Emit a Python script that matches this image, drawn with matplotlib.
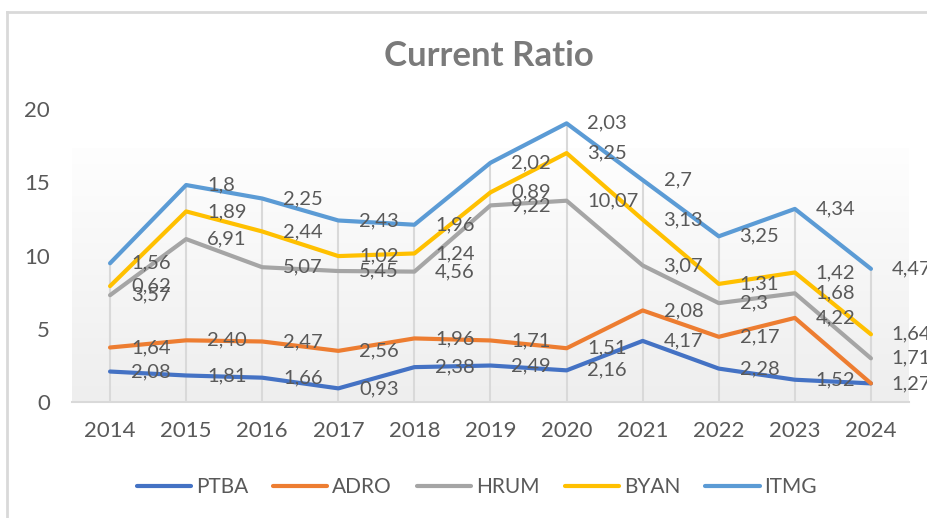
import matplotlib

matplotlib.use("Agg")
import matplotlib.pyplot as plt
import numpy as np
from matplotlib.colors import LinearSegmentedColormap
from matplotlib.lines import Line2D

plt.rcParams["font.family"] = ["Lato", "DejaVu Sans"]

years = ["2014", "2015", "2016", "2017", "2018", "2019", "2020", "2021", "2022", "2023", "2024"]
series_names = ["PTBA", "ADRO", "HRUM", "BYAN", "ITMG"]
ptba = [2.08, 1.81, 1.66, 0.93, 2.38, 2.49, 2.16, 4.17, 2.28, 1.52, 1.27]
adro = [1.64, 2.40, 2.47, 2.56, 1.96, 1.71, 1.51, 2.08, 2.17, 4.22, 0.0]
hrum = [3.57, 6.91, 5.07, 5.45, 4.56, 9.22, 10.07, 3.07, 2.3, 1.68, 1.71]
byan = [0.62, 1.89, 2.44, 1.02, 1.24, 0.89, 3.25, 3.13, 1.31, 1.42, 1.64]
itmg = [1.56, 1.8, 2.25, 2.43, 1.96, 2.02, 2.03, 2.7, 3.25, 4.34, 4.47]
yticks = [0, 5, 10, 15, 20]

colors = ["#4472C4", "#ED7D31", "#A5A5A5", "#FFC000", "#5B9BD5"]
label_fmt = ["{:.2f}", "{:.2f}", "{:g}", "{:g}", "{:g}"]
text_col = "#595959"
grid_col = "#D9D9D9"

data = np.array([ptba, adro, hrum, byan, itmg])
stacked = np.cumsum(data, axis=0)
x = np.arange(len(years))

fig = plt.figure(figsize=(9.28, 5.18), dpi=100)
fig.patch.set_facecolor("white")
ax = fig.add_axes([72 / 928, 116 / 518, 837 / 928, 293 / 518])
ax.set_facecolor("none")

# chart border (only top/left visible in the crop)
fig.add_artist(Line2D([7 / 928, 1], [1 - 12 / 518, 1 - 12 / 518], color=grid_col, lw=2, transform=fig.transFigure))
fig.add_artist(Line2D([7 / 928, 7 / 928], [0, 1 - 12 / 518], color=grid_col, lw=2, transform=fig.transFigure))

# plot area gradient
cmap = LinearSegmentedColormap.from_list("pa", ["#EEEEEE", "#FEFEFE"])
grad = np.linspace(0, 1, 256).reshape(-1, 1)
ax.imshow(grad, cmap=cmap, origin="lower", extent=(0, 1, 0, (402 - 148) / 293),
          transform=ax.transAxes, aspect="auto", zorder=0)

# drop lines
ax.vlines(x, 0, stacked[-1], color=grid_col, lw=1.5, zorder=1)

for i, name in enumerate(series_names):
    ax.plot(x, stacked[i], color=colors[i], lw=3, solid_capstyle="round",
            solid_joinstyle="round", label=name, zorder=3 + i)
    for j in range(len(years)):
        if data[i, j] == 0:
            continue
        txt = label_fmt[i].format(data[i, j]).replace(".", ",")
        ax.annotate(txt, (x[j], stacked[i, j]), xytext=(15, 0), textcoords="offset points",
                    ha="left", va="center", fontsize=14.5, color=text_col,
                    annotation_clip=False, zorder=10)

ax.set_xlim(-0.5, len(years) - 0.5)
ax.set_ylim(0, 20)
ax.set_xticks(x)
ax.set_xticklabels(years)
ax.set_yticks(yticks)
ax.tick_params(axis="both", length=0, labelsize=16, labelcolor=text_col)
ax.tick_params(axis="y", pad=16)
ax.tick_params(axis="x", pad=14)
for side in ["top", "right", "left"]:
    ax.spines[side].set_visible(False)
ax.spines["bottom"].set_color(grid_col)
ax.spines["bottom"].set_linewidth(1.5)

fig.text(489 / 928, 1 - 56 / 518, "Current Ratio", ha="center", va="center",
         fontsize=25, fontweight="bold", color="#7A7A7A")

leg = fig.legend(loc="center", bbox_to_anchor=(477 / 928, 1 - 487 / 518), ncol=5,
                 frameon=False, fontsize=15, handlelength=2.6, handletextpad=0.24,
                 columnspacing=1.2)
for t in leg.get_texts():
    t.set_color(text_col)

fig.savefig("out.png", dpi=100, facecolor="white")
